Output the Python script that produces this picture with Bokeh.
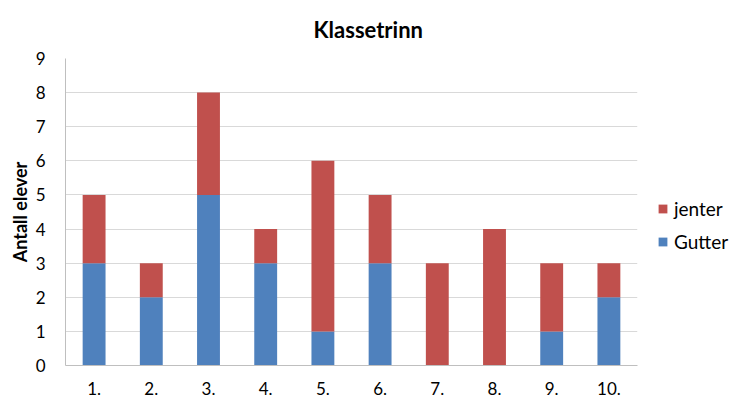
from bokeh.plotting import figure
from bokeh.models import ColumnDataSource, Legend, LegendItem, FactorRange, SingleIntervalTicker
from bokeh.embed import file_html
from bokeh.resources import INLINE

categories = ["1.", "2.", "3.", "4.", "5.", "6.", "7.", "8.", "9.", "10."]
gutter = [3, 2, 5, 3, 1, 3, 0, 0, 1, 2]
jenter = [2, 1, 3, 1, 5, 2, 3, 4, 2, 1]
title_text = "Klassetrinn"
y_label = "Antall elever"

FONT = "Lato"
BLUE = "#4F81BD"
RED = "#C0504D"

FW, FH = 572, 307

src = ColumnDataSource(dict(cat=categories, Gutter=gutter, jenter=jenter))

p = figure(frame_width=FW, frame_height=FH, x_range=FactorRange(*categories, range_padding=0),
           y_range=(0, 9), output_backend="svg", toolbar_location=None,
           title=title_text,
           min_border_left=65, min_border_right=92,
           min_border_top=58, min_border_bottom=36)

r = p.vbar_stack(["Gutter", "jenter"], x="cat", width=0.4, source=src,
                 color=[BLUE, RED], line_color=None)

p.title.align = "left"
p.title.offset = 248
p.title.standoff = 28
p.title.vertical_align = "top"
p.title.text_font = FONT
p.title.text_font_size = "22px"
p.title.text_font_style = "bold"
p.title.text_color = "#000000"

p.outline_line_color = None
p.xgrid.grid_line_color = None
p.ygrid.grid_line_color = "#D9D9D9"
p.ygrid.grid_line_width = 1
p.yaxis.ticker = SingleIntervalTicker(interval=1)

for ax in (p.xaxis, p.yaxis):
    ax.axis_line_color = "#BFBFBF"
    ax.major_tick_line_color = None
    ax.minor_tick_line_color = None
    ax.major_tick_out = 0
    ax.major_tick_in = 0
    ax.minor_tick_out = 0
    ax.major_label_text_font = FONT
    ax.major_label_text_font_size = "17px"
    ax.major_label_text_color = "#000000"

p.xaxis.major_label_standoff = 16
p.yaxis.major_label_standoff = 20
p.yaxis.axis_label = y_label
p.yaxis.axis_label_text_font = FONT
p.yaxis.axis_label_text_font_size = "18px"
p.yaxis.axis_label_text_font_style = "bold"
p.yaxis.axis_label_text_color = "#000000"
p.yaxis.axis_label_standoff = 2

legend = Legend(items=[LegendItem(label="jenter", renderers=[r[1]]),
                       LegendItem(label="Gutter", renderers=[r[0]])],
                location=(20, 112), border_line_color=None, background_fill_alpha=0,
                label_text_font=FONT, label_text_font_size="19px", label_text_color="#000000",
                glyph_width=11, glyph_height=11, label_height=23, spacing=10,
                padding=0, margin=0, label_standoff=6)
p.add_layout(legend, "right")

open("out.html", "w").write(file_html(p, INLINE))
